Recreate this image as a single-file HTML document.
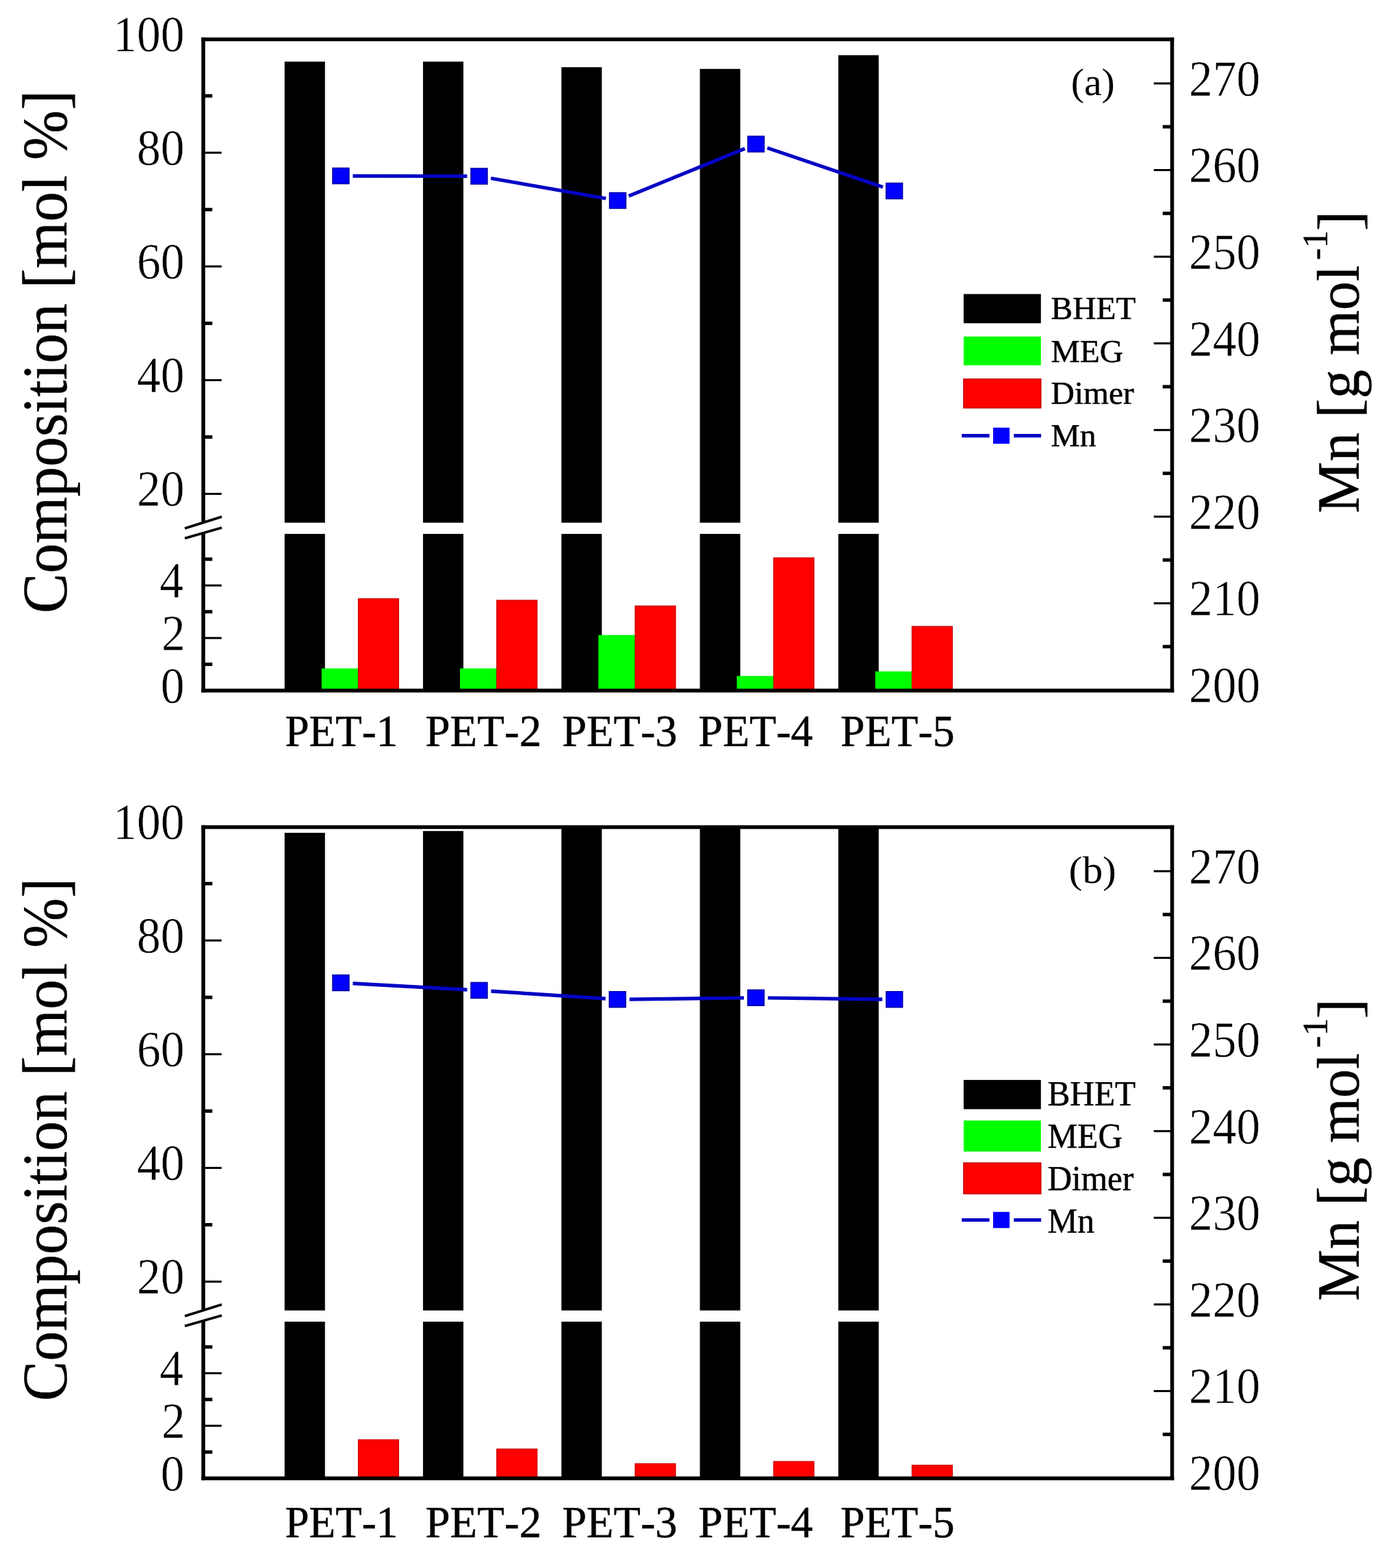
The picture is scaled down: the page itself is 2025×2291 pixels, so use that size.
<!DOCTYPE html>
<html><head><meta charset="utf-8"><title>Composition and Mn of PET glycolysis products</title>
<style>html,body{margin:0;padding:0;background:#fff;overflow:hidden;}svg{display:block;}</style>
</head><body>
<svg width="2025" height="2291" viewBox="0 0 2025 2291" font-family="'Liberation Serif', 'Times New Roman', serif" fill="#000">
<style>text{font-kerning:none;text-rendering:geometricPrecision;}.t{stroke:#fff;stroke-width:0.5px}.ti{stroke:#000;stroke-width:0.4px}.xl{stroke:#000;stroke-width:0.5px}.lg{stroke:#000;stroke-width:0.5px}</style>
<rect width="2025" height="2291" fill="#fff"/>
<g>
<rect x="415.80" y="90.00" width="59.0" height="673.70"/>
<rect x="415.80" y="780.10" width="59.0" height="228.90"/>
<rect x="469.80" y="976.60" width="59.0" height="32.40" fill="#00ff00"/>
<rect x="523.50" y="874.80" width="59.0" height="134.20" fill="#ff0000" stroke="#c80000" stroke-width="1.2"/>
<rect x="618.05" y="90.00" width="59.0" height="673.70"/>
<rect x="618.05" y="780.10" width="59.0" height="228.90"/>
<rect x="672.05" y="976.60" width="59.0" height="32.40" fill="#00ff00"/>
<rect x="725.75" y="877.00" width="59.0" height="132.00" fill="#ff0000" stroke="#c80000" stroke-width="1.2"/>
<rect x="820.30" y="98.20" width="59.0" height="665.50"/>
<rect x="820.30" y="780.10" width="59.0" height="228.90"/>
<rect x="874.30" y="927.80" width="59.0" height="81.20" fill="#00ff00"/>
<rect x="928.00" y="885.30" width="59.0" height="123.70" fill="#ff0000" stroke="#c80000" stroke-width="1.2"/>
<rect x="1022.55" y="100.70" width="59.0" height="663.00"/>
<rect x="1022.55" y="780.10" width="59.0" height="228.90"/>
<rect x="1076.55" y="987.60" width="59.0" height="21.40" fill="#00ff00"/>
<rect x="1130.25" y="815.00" width="59.0" height="194.00" fill="#ff0000" stroke="#c80000" stroke-width="1.2"/>
<rect x="1224.80" y="80.60" width="59.0" height="683.10"/>
<rect x="1224.80" y="780.10" width="59.0" height="228.90"/>
<rect x="1278.80" y="981.00" width="59.0" height="28.00" fill="#00ff00"/>
<rect x="1332.50" y="915.20" width="59.0" height="93.80" fill="#ff0000" stroke="#c80000" stroke-width="1.2"/>
<line x1="515.50" y1="257.04" x2="682.50" y2="257.46" stroke="#0404c4" stroke-width="5.2"/>
<line x1="717.24" y1="260.52" x2="885.26" y2="289.98" stroke="#0404c4" stroke-width="5.2"/>
<line x1="918.70" y1="286.38" x2="1088.30" y2="217.12" stroke="#0404c4" stroke-width="5.2"/>
<line x1="1121.07" y1="216.12" x2="1290.03" y2="273.38" stroke="#0404c4" stroke-width="5.2"/>
<rect x="486.00" y="245.50" width="24" height="23" fill="#0000ff" stroke="#0000a0" stroke-width="1.5"/>
<rect x="688.00" y="246.00" width="24" height="23" fill="#0000ff" stroke="#0000a0" stroke-width="1.5"/>
<rect x="890.50" y="281.50" width="24" height="23" fill="#0000ff" stroke="#0000a0" stroke-width="1.5"/>
<rect x="1092.50" y="199.00" width="24" height="23" fill="#0000ff" stroke="#0000a0" stroke-width="1.5"/>
<rect x="1294.60" y="267.50" width="24" height="23" fill="#0000ff" stroke="#0000a0" stroke-width="1.5"/>
<g stroke="#000" stroke-width="5.5" fill="none">
<line x1="294.25" y1="57.50" x2="1715.25" y2="57.50"/>
<line x1="294.25" y1="1009.00" x2="1715.25" y2="1009.00"/>
<line x1="1712.50" y1="54.75" x2="1712.50" y2="1011.75"/>
<line x1="297.00" y1="54.75" x2="297.00" y2="762.00"/>
<line x1="297.00" y1="780.00" x2="297.00" y2="1011.75"/>
</g>
<g stroke="#000" stroke-width="3.8">
<line x1="270" y1="772.0" x2="324" y2="755.0"/>
<line x1="270" y1="786.5" x2="324" y2="771.0"/>
</g>
<g stroke="#000" stroke-width="3">
<line x1="298.75" y1="721.60" x2="323.75" y2="721.60"/>
<line x1="298.75" y1="555.44" x2="323.75" y2="555.44"/>
<line x1="298.75" y1="389.28" x2="323.75" y2="389.28"/>
<line x1="298.75" y1="223.12" x2="323.75" y2="223.12"/>
<line x1="298.75" y1="932.20" x2="323.75" y2="932.20"/>
<line x1="298.75" y1="855.40" x2="323.75" y2="855.40"/>
<line x1="1685.75" y1="881.50" x2="1710.75" y2="881.50"/>
<line x1="1685.75" y1="754.90" x2="1710.75" y2="754.90"/>
<line x1="1685.75" y1="628.30" x2="1710.75" y2="628.30"/>
<line x1="1685.75" y1="501.70" x2="1710.75" y2="501.70"/>
<line x1="1685.75" y1="375.10" x2="1710.75" y2="375.10"/>
<line x1="1685.75" y1="248.50" x2="1710.75" y2="248.50"/>
<line x1="1685.75" y1="121.90" x2="1710.75" y2="121.90"/>
</g>
<g stroke="#000" stroke-width="5">
<line x1="298.75" y1="638.52" x2="310.25" y2="638.52"/>
<line x1="298.75" y1="472.36" x2="310.25" y2="472.36"/>
<line x1="298.75" y1="306.20" x2="310.25" y2="306.20"/>
<line x1="298.75" y1="140.04" x2="310.25" y2="140.04"/>
<line x1="298.75" y1="970.60" x2="310.25" y2="970.60"/>
<line x1="298.75" y1="893.80" x2="310.25" y2="893.80"/>
<line x1="298.75" y1="817.00" x2="310.25" y2="817.00"/>
<line x1="1698.75" y1="944.80" x2="1710.75" y2="944.80"/>
<line x1="1698.75" y1="818.20" x2="1710.75" y2="818.20"/>
<line x1="1698.75" y1="691.60" x2="1710.75" y2="691.60"/>
<line x1="1698.75" y1="565.00" x2="1710.75" y2="565.00"/>
<line x1="1698.75" y1="438.40" x2="1710.75" y2="438.40"/>
<line x1="1698.75" y1="311.80" x2="1710.75" y2="311.80"/>
<line x1="1698.75" y1="185.20" x2="1710.75" y2="185.20"/>
</g>
<text class="t" transform="translate(165.20,74.62) scale(1,1.0700)" font-size="69.50">100</text>
<text class="t" transform="translate(199.95,240.78) scale(1,1.0700)" font-size="69.50">80</text>
<text class="t" transform="translate(199.95,406.94) scale(1,1.0700)" font-size="69.50">60</text>
<text class="t" transform="translate(199.95,573.10) scale(1,1.0700)" font-size="69.50">40</text>
<text class="t" transform="translate(199.95,739.26) scale(1,1.0700)" font-size="69.50">20</text>
<text class="t" transform="translate(233.14,873.17) scale(1,1.0700)" font-size="69.50">4</text>
<text class="t" transform="translate(235.88,950.12) scale(1,1.0700)" font-size="69.50">2</text>
<text class="t" transform="translate(234.70,1026.66) scale(1,1.0700)" font-size="69.50">0</text>
<text class="t" transform="translate(1736.95,1025.96) scale(1,1.0700)" font-size="69.50">200</text>
<text class="t" transform="translate(1736.95,899.36) scale(1,1.0700)" font-size="69.50">210</text>
<text class="t" transform="translate(1736.95,772.76) scale(1,1.0700)" font-size="69.50">220</text>
<text class="t" transform="translate(1736.95,646.16) scale(1,1.0700)" font-size="69.50">230</text>
<text class="t" transform="translate(1736.95,519.56) scale(1,1.0700)" font-size="69.50">240</text>
<text class="t" transform="translate(1736.95,392.96) scale(1,1.0700)" font-size="69.50">250</text>
<text class="t" transform="translate(1736.95,266.36) scale(1,1.0700)" font-size="69.50">260</text>
<text class="t" transform="translate(1736.95,139.76) scale(1,1.0700)" font-size="69.50">270</text>
<text class="ti" transform="translate(96.50,896.20) rotate(-90) scale(1,1.0610)" font-size="87.65">Composition [mol %]</text>
<text class="ti" transform="translate(1985.20,749.64) rotate(-90) scale(1,1.0366)" font-size="84.70">Mn [g mol</text>
<text class="ti" transform="translate(1938.80,379.93) rotate(-90) scale(1,1.0000)" font-size="52.00">-1</text>
<text class="ti" transform="translate(1986.30,337.38) rotate(-90) scale(1,1.0000)" font-size="88.00">]</text>
<text class="pl" transform="translate(1564.66,139.40) scale(1,0.9745)" font-size="57.83">(a)</text>
<rect x="1407.9" y="429.60" width="112.9" height="42.70" fill="#000"/>
<rect x="1407.9" y="491.70" width="112.9" height="42.00" fill="#00ff00"/>
<rect x="1407.9" y="553.80" width="112.9" height="42.20" fill="#ff0000" stroke="#c80000" stroke-width="1.5"/>
<line x1="1405.2" y1="636.60" x2="1445.6" y2="636.60" stroke="#0404c4" stroke-width="5.2"/>
<line x1="1481.3" y1="636.60" x2="1521.1" y2="636.60" stroke="#0404c4" stroke-width="5.2"/>
<rect x="1451" y="624.80" width="24" height="23.6" fill="#0000ff"/>
<text class="lg" transform="translate(1535.53,465.84) scale(1,0.9850)" font-size="47.50">BHET</text>
<text class="lg" transform="translate(1535.53,528.98) scale(1,0.9850)" font-size="47.50">MEG</text>
<text class="lg" transform="translate(1535.53,590.38) scale(1,0.9850)" font-size="47.50">Dimer</text>
<text class="lg" transform="translate(1535.53,652.34) scale(1,0.9850)" font-size="47.50">Mn</text>
<text class="xl" transform="translate(416.48,1090.11) scale(1,1.0332)" font-size="63.20">PET-1</text>
<text class="xl" transform="translate(621.43,1090.24) scale(1,1.0043)" font-size="65.02">PET-2</text>
<text class="xl" transform="translate(821.24,1090.24) scale(1,1.0125)" font-size="64.49">PET-3</text>
<text class="xl" transform="translate(1020.36,1089.98) scale(1,1.0200)" font-size="64.02">PET-4</text>
<text class="xl" transform="translate(1228.06,1089.76) scale(1,1.0238)" font-size="63.78">PET-5</text>
</g>
<g>
<rect x="415.80" y="1216.80" width="59.0" height="697.90"/>
<rect x="415.80" y="1931.10" width="59.0" height="228.90"/>
<rect x="523.50" y="2103.60" width="59.0" height="56.40" fill="#ff0000" stroke="#c80000" stroke-width="1.2"/>
<rect x="618.05" y="1214.20" width="59.0" height="700.50"/>
<rect x="618.05" y="1931.10" width="59.0" height="228.90"/>
<rect x="725.75" y="2117.10" width="59.0" height="42.90" fill="#ff0000" stroke="#c80000" stroke-width="1.2"/>
<rect x="820.30" y="1211.00" width="59.0" height="703.70"/>
<rect x="820.30" y="1931.10" width="59.0" height="228.90"/>
<rect x="928.00" y="2138.60" width="59.0" height="21.40" fill="#ff0000" stroke="#c80000" stroke-width="1.2"/>
<rect x="1022.55" y="1211.00" width="59.0" height="703.70"/>
<rect x="1022.55" y="1931.10" width="59.0" height="228.90"/>
<rect x="1130.25" y="2135.30" width="59.0" height="24.70" fill="#ff0000" stroke="#c80000" stroke-width="1.2"/>
<rect x="1224.80" y="1211.00" width="59.0" height="703.70"/>
<rect x="1224.80" y="1931.10" width="59.0" height="228.90"/>
<rect x="1332.50" y="2140.80" width="59.0" height="19.20" fill="#ff0000" stroke="#c80000" stroke-width="1.2"/>
<line x1="515.47" y1="1436.95" x2="682.53" y2="1446.05" stroke="#0404c4" stroke-width="5.2"/>
<line x1="717.46" y1="1448.15" x2="884.74" y2="1459.15" stroke="#0404c4" stroke-width="5.2"/>
<line x1="919.70" y1="1460.08" x2="1086.90" y2="1458.02" stroke="#0404c4" stroke-width="5.2"/>
<line x1="1121.90" y1="1458.02" x2="1289.20" y2="1460.08" stroke="#0404c4" stroke-width="5.2"/>
<rect x="486.00" y="1424.50" width="24" height="23" fill="#0000ff" stroke="#0000a0" stroke-width="1.5"/>
<rect x="688.00" y="1435.50" width="24" height="23" fill="#0000ff" stroke="#0000a0" stroke-width="1.5"/>
<rect x="890.20" y="1448.80" width="24" height="23" fill="#0000ff" stroke="#0000a0" stroke-width="1.5"/>
<rect x="1092.40" y="1446.30" width="24" height="23" fill="#0000ff" stroke="#0000a0" stroke-width="1.5"/>
<rect x="1294.70" y="1448.80" width="24" height="23" fill="#0000ff" stroke="#0000a0" stroke-width="1.5"/>
<g stroke="#000" stroke-width="5.5" fill="none">
<line x1="294.25" y1="1208.50" x2="1715.25" y2="1208.50"/>
<line x1="294.25" y1="2160.00" x2="1715.25" y2="2160.00"/>
<line x1="1712.50" y1="1205.75" x2="1712.50" y2="2162.75"/>
<line x1="297.00" y1="1205.75" x2="297.00" y2="1913.00"/>
<line x1="297.00" y1="1931.00" x2="297.00" y2="2162.75"/>
</g>
<g stroke="#000" stroke-width="3.8">
<line x1="270" y1="1923.0" x2="324" y2="1906.0"/>
<line x1="270" y1="1937.5" x2="324" y2="1922.0"/>
</g>
<g stroke="#000" stroke-width="3">
<line x1="298.75" y1="1872.60" x2="323.75" y2="1872.60"/>
<line x1="298.75" y1="1706.44" x2="323.75" y2="1706.44"/>
<line x1="298.75" y1="1540.28" x2="323.75" y2="1540.28"/>
<line x1="298.75" y1="1374.12" x2="323.75" y2="1374.12"/>
<line x1="298.75" y1="2083.20" x2="323.75" y2="2083.20"/>
<line x1="298.75" y1="2006.40" x2="323.75" y2="2006.40"/>
<line x1="1685.75" y1="2032.50" x2="1710.75" y2="2032.50"/>
<line x1="1685.75" y1="1905.90" x2="1710.75" y2="1905.90"/>
<line x1="1685.75" y1="1779.30" x2="1710.75" y2="1779.30"/>
<line x1="1685.75" y1="1652.70" x2="1710.75" y2="1652.70"/>
<line x1="1685.75" y1="1526.10" x2="1710.75" y2="1526.10"/>
<line x1="1685.75" y1="1399.50" x2="1710.75" y2="1399.50"/>
<line x1="1685.75" y1="1272.90" x2="1710.75" y2="1272.90"/>
</g>
<g stroke="#000" stroke-width="5">
<line x1="298.75" y1="1789.52" x2="310.25" y2="1789.52"/>
<line x1="298.75" y1="1623.36" x2="310.25" y2="1623.36"/>
<line x1="298.75" y1="1457.20" x2="310.25" y2="1457.20"/>
<line x1="298.75" y1="1291.04" x2="310.25" y2="1291.04"/>
<line x1="298.75" y1="2121.60" x2="310.25" y2="2121.60"/>
<line x1="298.75" y1="2044.80" x2="310.25" y2="2044.80"/>
<line x1="298.75" y1="1968.00" x2="310.25" y2="1968.00"/>
<line x1="1698.75" y1="2095.80" x2="1710.75" y2="2095.80"/>
<line x1="1698.75" y1="1969.20" x2="1710.75" y2="1969.20"/>
<line x1="1698.75" y1="1842.60" x2="1710.75" y2="1842.60"/>
<line x1="1698.75" y1="1716.00" x2="1710.75" y2="1716.00"/>
<line x1="1698.75" y1="1589.40" x2="1710.75" y2="1589.40"/>
<line x1="1698.75" y1="1462.80" x2="1710.75" y2="1462.80"/>
<line x1="1698.75" y1="1336.20" x2="1710.75" y2="1336.20"/>
</g>
<text class="t" transform="translate(165.20,1225.62) scale(1,1.0700)" font-size="69.50">100</text>
<text class="t" transform="translate(199.95,1391.78) scale(1,1.0700)" font-size="69.50">80</text>
<text class="t" transform="translate(199.95,1557.94) scale(1,1.0700)" font-size="69.50">60</text>
<text class="t" transform="translate(199.95,1724.10) scale(1,1.0700)" font-size="69.50">40</text>
<text class="t" transform="translate(199.95,1890.26) scale(1,1.0700)" font-size="69.50">20</text>
<text class="t" transform="translate(233.14,2024.17) scale(1,1.0700)" font-size="69.50">4</text>
<text class="t" transform="translate(235.88,2101.12) scale(1,1.0700)" font-size="69.50">2</text>
<text class="t" transform="translate(234.70,2177.66) scale(1,1.0700)" font-size="69.50">0</text>
<text class="t" transform="translate(1736.95,2176.96) scale(1,1.0700)" font-size="69.50">200</text>
<text class="t" transform="translate(1736.95,2050.36) scale(1,1.0700)" font-size="69.50">210</text>
<text class="t" transform="translate(1736.95,1923.76) scale(1,1.0700)" font-size="69.50">220</text>
<text class="t" transform="translate(1736.95,1797.16) scale(1,1.0700)" font-size="69.50">230</text>
<text class="t" transform="translate(1736.95,1670.56) scale(1,1.0700)" font-size="69.50">240</text>
<text class="t" transform="translate(1736.95,1543.96) scale(1,1.0700)" font-size="69.50">250</text>
<text class="t" transform="translate(1736.95,1417.36) scale(1,1.0700)" font-size="69.50">260</text>
<text class="t" transform="translate(1736.95,1290.76) scale(1,1.0700)" font-size="69.50">270</text>
<text class="ti" transform="translate(96.50,2047.20) rotate(-90) scale(1,1.0610)" font-size="87.65">Composition [mol %]</text>
<text class="ti" transform="translate(1985.20,1900.64) rotate(-90) scale(1,1.0366)" font-size="84.70">Mn [g mol</text>
<text class="ti" transform="translate(1938.80,1530.93) rotate(-90) scale(1,1.0000)" font-size="52.00">-1</text>
<text class="ti" transform="translate(1986.30,1488.38) rotate(-90) scale(1,1.0000)" font-size="88.00">]</text>
<text class="pl" transform="translate(1561.59,1290.47) scale(1,0.9423)" font-size="59.46">(b)</text>
<rect x="1407.9" y="1577.90" width="112.9" height="42.70" fill="#000"/>
<rect x="1407.9" y="1637.20" width="112.9" height="45.30" fill="#00ff00"/>
<rect x="1407.9" y="1699.10" width="112.9" height="45.20" fill="#ff0000" stroke="#c80000" stroke-width="1.5"/>
<line x1="1405.2" y1="1782.50" x2="1445.6" y2="1782.50" stroke="#0404c4" stroke-width="5.2"/>
<line x1="1481.3" y1="1782.50" x2="1521.1" y2="1782.50" stroke="#0404c4" stroke-width="5.2"/>
<rect x="1451" y="1770.70" width="24" height="23.6" fill="#0000ff"/>
<text class="lg" transform="translate(1530.48,1614.63) scale(1,1.0480)" font-size="49.30">BHET</text>
<text class="lg" transform="translate(1530.48,1677.21) scale(1,1.0480)" font-size="49.30">MEG</text>
<text class="lg" transform="translate(1530.48,1738.61) scale(1,1.0480)" font-size="49.30">Dimer</text>
<text class="lg" transform="translate(1530.48,1800.53) scale(1,1.0480)" font-size="49.30">Mn</text>
<text class="xl" transform="translate(416.48,2246.31) scale(1,1.0332)" font-size="63.20">PET-1</text>
<text class="xl" transform="translate(621.43,2246.44) scale(1,1.0043)" font-size="65.02">PET-2</text>
<text class="xl" transform="translate(821.24,2246.44) scale(1,1.0125)" font-size="64.49">PET-3</text>
<text class="xl" transform="translate(1020.36,2246.18) scale(1,1.0200)" font-size="64.02">PET-4</text>
<text class="xl" transform="translate(1228.06,2245.96) scale(1,1.0238)" font-size="63.78">PET-5</text>
</g>
</svg>
</body></html>
